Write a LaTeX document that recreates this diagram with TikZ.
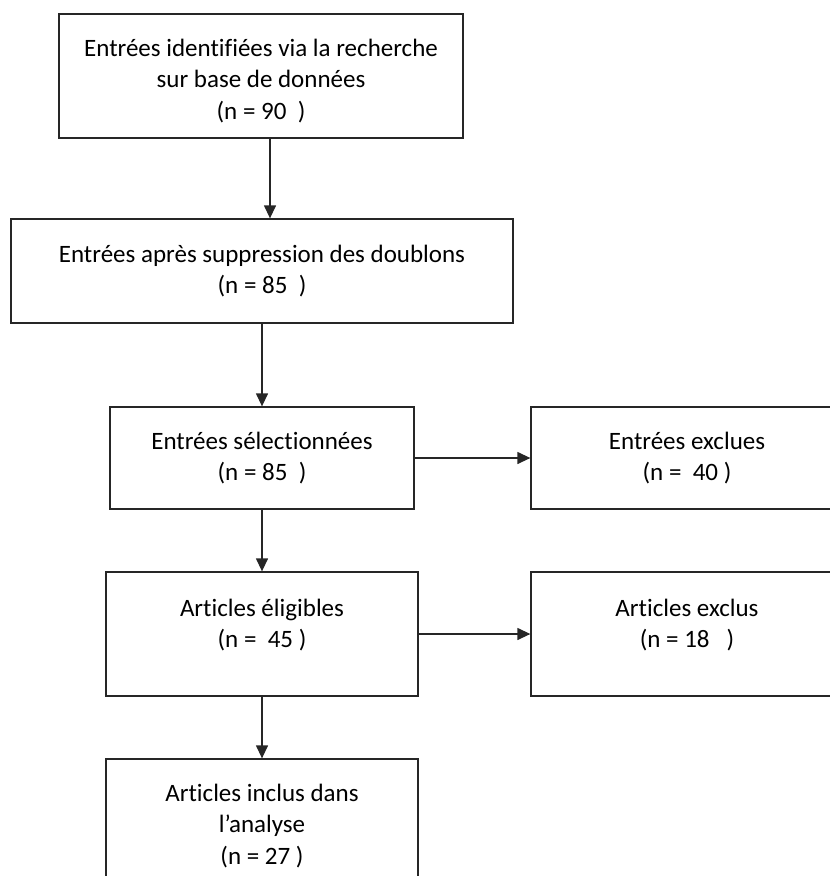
\documentclass[tikz,border=0pt]{standalone}
\usepackage{fontspec}
\setmainfont{Carlito}[Ligatures=NoCommon]
\usetikzlibrary{arrows.meta}
\newcommand{\padtop}{\rule{0pt}{27pt}}

\begin{document}
\begin{tikzpicture}[x=1pt, y=-1pt,
  box/.style={draw=black!85, line width=1.3pt, align=center, inner sep=0pt,
    font=\fontsize{25}{31.5}\selectfont},
  arr/.style={draw=black!85, line width=1.3pt, -{Triangle[length=13pt, width=12pt]}}]

\useasboundingbox (0,0) rectangle (830,876);
\clip (0,0) rectangle (830,876);

% Points
\coordinate (I) at (261,76);
\coordinate (D) at (262,271);
\coordinate (S) at (262,458);
\coordinate (X) at (687,458);
\coordinate (E) at (262,634);
\coordinate (A) at (687,634);
\coordinate (N) at (262,821);

% Boxes
\node[box, minimum width=404pt, minimum height=124pt] (ID) at (I)
  {\padtop Entrées identifiées via la recherche\\sur base de données\\(n = 90\ \ )};
\node[box, minimum width=502pt, minimum height=104pt] (DD) at (D)
  {Entrées après suppression des doublons\\(n = 85\ \ )};
\node[box, minimum width=304pt, minimum height=102pt] (SEL) at (S)
  {Entrées sélectionnées\\(n = 85\ \ )};
\node[box, minimum width=312pt, minimum height=102pt] (EXC) at (X)
  {Entrées exclues\\(n = \ 40 )};
\node[box, minimum width=312pt, minimum height=124pt] (ELIG) at (E)
  {\padtop Articles éligibles\\(n = \ 45 )\\\mbox{}};
\node[box, minimum width=312pt, minimum height=124pt] (AEXC) at (A)
  {\padtop Articles exclus\\(n = 18\ \ \ )\\\mbox{}};
\node[box, minimum width=312pt, minimum height=124pt] (INC) at (N)
  {\padtop Articles inclus dans\\l’analyse\\(n = 27 )};

% Arrows
\draw[arr] ([xshift=9pt]ID.south) -- ([xshift=8pt]DD.north);
\draw[arr] (DD.south) -- (SEL.north);
\draw[arr] (SEL.east) -- (EXC.west);
\draw[arr] (SEL.south) -- (ELIG.north);
\draw[arr] (ELIG.east) -- (AEXC.west);
\draw[arr] (ELIG.south) -- (INC.north);
\end{tikzpicture}
\end{document}
